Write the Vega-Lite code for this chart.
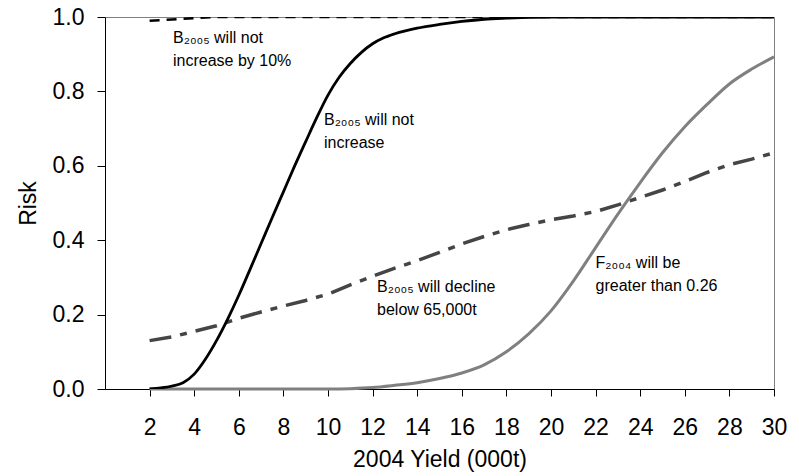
{
  "$schema": "https://vega.github.io/schema/vega-lite/v6.json",
  "width": 669,
  "height": 372,
  "autosize": "none",
  "padding": {"left": 105, "top": 17, "right": 25, "bottom": 87},
  "config": {
    "font": "Liberation Sans",
    "view": {"stroke": "#808080", "strokeWidth": 1},
    "axis": {
      "grid": false,
      "domainColor": "#000000",
      "tickColor": "#000000",
      "labelColor": "#000000",
      "titleColor": "#000000",
      "labelFont": "Liberation Sans",
      "titleFont": "Liberation Sans",
      "labelFontSize": 23,
      "titleFontSize": 23,
      "titleFontWeight": "normal",
      "labelOverlap": false,
      "labelFlush": false
    }
  },
  "datasets": {
    "curves": [
      {"series": "inc10", "x": 2, "risk": 0.99},
      {"series": "inc10", "x": 3, "risk": 0.993},
      {"series": "inc10", "x": 4, "risk": 0.997},
      {"series": "inc10", "x": 5, "risk": 1.0},
      {"series": "inc10", "x": 8, "risk": 1.0},
      {"series": "inc10", "x": 10, "risk": 1.0},
      {"series": "inc10", "x": 14, "risk": 1.0},
      {"series": "inc10", "x": 18, "risk": 1.0},
      {"series": "inc10", "x": 22, "risk": 1.0},
      {"series": "inc10", "x": 26, "risk": 1.0},
      {"series": "inc10", "x": 30, "risk": 1.0},

      {"series": "inc", "x": 2, "risk": 0.0},
      {"series": "inc", "x": 2.5, "risk": 0.003},
      {"series": "inc", "x": 3, "risk": 0.008},
      {"series": "inc", "x": 3.5, "risk": 0.017},
      {"series": "inc", "x": 4, "risk": 0.04},
      {"series": "inc", "x": 4.5, "risk": 0.08},
      {"series": "inc", "x": 5, "risk": 0.13},
      {"series": "inc", "x": 5.5, "risk": 0.188},
      {"series": "inc", "x": 6, "risk": 0.252},
      {"series": "inc", "x": 6.5, "risk": 0.321},
      {"series": "inc", "x": 7, "risk": 0.391},
      {"series": "inc", "x": 7.5, "risk": 0.461},
      {"series": "inc", "x": 8, "risk": 0.53},
      {"series": "inc", "x": 8.5, "risk": 0.599},
      {"series": "inc", "x": 9, "risk": 0.665},
      {"series": "inc", "x": 9.5, "risk": 0.73},
      {"series": "inc", "x": 10, "risk": 0.79},
      {"series": "inc", "x": 10.5, "risk": 0.838},
      {"series": "inc", "x": 11, "risk": 0.875},
      {"series": "inc", "x": 11.5, "risk": 0.905},
      {"series": "inc", "x": 12, "risk": 0.928},
      {"series": "inc", "x": 12.5, "risk": 0.944},
      {"series": "inc", "x": 13, "risk": 0.955},
      {"series": "inc", "x": 14, "risk": 0.97},
      {"series": "inc", "x": 15, "risk": 0.98},
      {"series": "inc", "x": 16, "risk": 0.988},
      {"series": "inc", "x": 17, "risk": 0.994},
      {"series": "inc", "x": 18, "risk": 0.997},
      {"series": "inc", "x": 19, "risk": 0.999},
      {"series": "inc", "x": 20, "risk": 1.0},
      {"series": "inc", "x": 25, "risk": 1.0},
      {"series": "inc", "x": 30, "risk": 1.0},

      {"series": "decl", "x": 2, "risk": 0.13},
      {"series": "decl", "x": 3, "risk": 0.14},
      {"series": "decl", "x": 4, "risk": 0.155},
      {"series": "decl", "x": 5, "risk": 0.17},
      {"series": "decl", "x": 6, "risk": 0.19},
      {"series": "decl", "x": 7, "risk": 0.207},
      {"series": "decl", "x": 8, "risk": 0.223},
      {"series": "decl", "x": 9, "risk": 0.238},
      {"series": "decl", "x": 10, "risk": 0.255},
      {"series": "decl", "x": 11, "risk": 0.28},
      {"series": "decl", "x": 12, "risk": 0.303},
      {"series": "decl", "x": 13, "risk": 0.325},
      {"series": "decl", "x": 14, "risk": 0.345},
      {"series": "decl", "x": 15, "risk": 0.367},
      {"series": "decl", "x": 16, "risk": 0.39},
      {"series": "decl", "x": 17, "risk": 0.41},
      {"series": "decl", "x": 18, "risk": 0.428},
      {"series": "decl", "x": 19, "risk": 0.442},
      {"series": "decl", "x": 20, "risk": 0.455},
      {"series": "decl", "x": 21, "risk": 0.465},
      {"series": "decl", "x": 22, "risk": 0.477},
      {"series": "decl", "x": 23, "risk": 0.495},
      {"series": "decl", "x": 24, "risk": 0.515},
      {"series": "decl", "x": 25, "risk": 0.535},
      {"series": "decl", "x": 26, "risk": 0.558},
      {"series": "decl", "x": 27, "risk": 0.582},
      {"series": "decl", "x": 28, "risk": 0.603},
      {"series": "decl", "x": 29, "risk": 0.618},
      {"series": "decl", "x": 30, "risk": 0.635},

      {"series": "F", "x": 2, "risk": 0.0},
      {"series": "F", "x": 6, "risk": 0.0},
      {"series": "F", "x": 10, "risk": 0.0},
      {"series": "F", "x": 11, "risk": 0.001},
      {"series": "F", "x": 12, "risk": 0.004},
      {"series": "F", "x": 13, "risk": 0.01},
      {"series": "F", "x": 14, "risk": 0.017},
      {"series": "F", "x": 15, "risk": 0.028},
      {"series": "F", "x": 16, "risk": 0.043},
      {"series": "F", "x": 17, "risk": 0.065},
      {"series": "F", "x": 18, "risk": 0.1},
      {"series": "F", "x": 19, "risk": 0.148},
      {"series": "F", "x": 20, "risk": 0.21},
      {"series": "F", "x": 21, "risk": 0.29},
      {"series": "F", "x": 22, "risk": 0.38},
      {"series": "F", "x": 23, "risk": 0.47},
      {"series": "F", "x": 24, "risk": 0.555},
      {"series": "F", "x": 25, "risk": 0.635},
      {"series": "F", "x": 26, "risk": 0.705},
      {"series": "F", "x": 27, "risk": 0.765},
      {"series": "F", "x": 28, "risk": 0.82},
      {"series": "F", "x": 29, "risk": 0.86},
      {"series": "F", "x": 30, "risk": 0.893}
    ],
    "notes": [
      {"x": 3.05, "risk": 0.929, "label": "B₂₀₀₅ will not\nincrease by 10%"},
      {"x": 9.82, "risk": 0.71, "label": "B₂₀₀₅ will not\nincrease"},
      {"x": 12.2, "risk": 0.261, "label": "B₂₀₀₅ will decline\nbelow 65,000t"},
      {"x": 22.0, "risk": 0.326, "label": "F₂₀₀₄ will be\ngreater than 0.26"}
    ]
  },
  "layer": [
    {
      "data": {"name": "curves"},
      "transform": [{"filter": "datum.series === 'decl'"}],
      "mark": {"type": "line", "color": "#454545", "strokeWidth": 3.5, "strokeDash": [22, 9, 7, 9]},
      "encoding": {
        "x": {"field": "x", "type": "quantitative", "scale": {"domain": [0, 30], "nice": false, "zero": false},
          "axis": {"values": [2, 4, 6, 8, 10, 12, 14, 16, 18, 20, 22, 24, 26, 28, 30], "title": "2004 Yield (000t)", "tickSize": 7, "labelPadding": 20, "titlePadding": 9}},
        "y": {"field": "risk", "type": "quantitative", "scale": {"domain": [0, 1], "nice": false},
          "axis": {"values": [0, 0.2, 0.4, 0.6, 0.8, 1.0], "format": ".1f", "title": "Risk", "tickSize": 8, "labelPadding": 13, "titlePadding": 12}}
      }
    },
    {
      "data": {"name": "curves"},
      "transform": [{"filter": "datum.series === 'F'"}],
      "mark": {"type": "line", "color": "#808080", "strokeWidth": 3, "interpolate": "monotone"},
      "encoding": {
        "x": {"field": "x", "type": "quantitative"},
        "y": {"field": "risk", "type": "quantitative"}
      }
    },
    {
      "data": {"name": "curves"},
      "transform": [{"filter": "datum.series === 'inc'"}],
      "mark": {"type": "line", "color": "#000000", "strokeWidth": 2.8, "interpolate": "monotone", "clip": true},
      "encoding": {
        "x": {"field": "x", "type": "quantitative"},
        "y": {"field": "risk", "type": "quantitative"}
      }
    },
    {
      "data": {"name": "curves"},
      "transform": [{"filter": "datum.series === 'inc10'"}],
      "mark": {"type": "line", "color": "#000000", "strokeWidth": 2.5, "strokeDash": [10, 7], "clip": true},
      "encoding": {
        "x": {"field": "x", "type": "quantitative"},
        "y": {"field": "risk", "type": "quantitative"}
      }
    },
    {
      "data": {"name": "notes"},
      "mark": {"type": "text", "align": "left", "baseline": "alphabetic", "fontSize": 16, "lineHeight": 23, "lineBreak": "\n", "color": "#000000", "font": "Liberation Sans"},
      "encoding": {
        "x": {"field": "x", "type": "quantitative"},
        "y": {"field": "risk", "type": "quantitative"},
        "text": {"field": "label", "type": "nominal"}
      }
    }
  ]
}
